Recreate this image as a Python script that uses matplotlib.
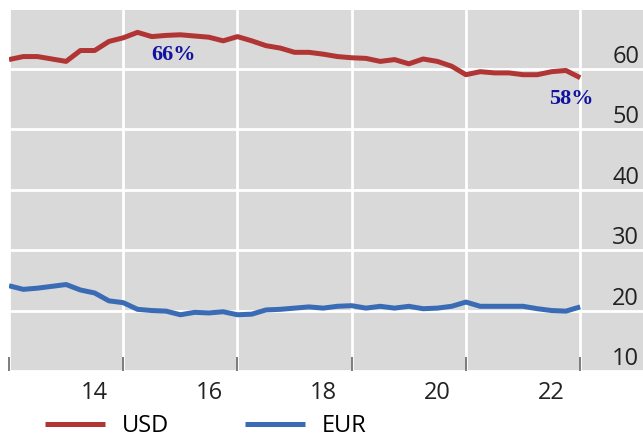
import matplotlib
matplotlib.use("Agg")
import matplotlib.pyplot as plt
import matplotlib.transforms as mtransforms
import pandas as pd

# quarterly shares (%), 2012Q3 - 2022Q3
first_quarter = "2012Q3"
last_quarter = "2022Q3"
usd = [61.5, 62.0, 62.0, 61.6, 61.2, 63.0, 63.0, 64.5, 65.1, 66.0,
       65.3, 65.5, 65.6, 65.4, 65.2, 64.6, 65.3, 64.6, 63.8, 63.4,
       62.7, 62.7, 62.4, 62.0, 61.8, 61.7, 61.2, 61.5, 60.8, 61.6,
       61.2, 60.4, 59.0, 59.5, 59.3, 59.3, 59.0, 59.0, 59.5, 59.7, 58.5]
eur = [24.1, 23.5, 23.7, 24.0, 24.3, 23.4, 22.9, 21.6, 21.3, 20.2,
       20.0, 19.9, 19.3, 19.7, 19.6, 19.8, 19.3, 19.4, 20.1, 20.2,
       20.4, 20.6, 20.4, 20.7, 20.8, 20.4, 20.7, 20.4, 20.7, 20.3,
       20.4, 20.7, 21.4, 20.7, 20.7, 20.7, 20.7, 20.3, 20.0, 19.9, 20.6]
year_labels = ["14", "16", "18", "20", "22"]
year_label_pos = [14, 16, 18, 20, 22]
grid_years = [12.5, 14.5, 16.5, 18.5, 20.5, 22.5]
y_ticks = [10, 20, 30, 40, 50, 60]
notes = [("66%", 15.38, 62.3), ("58%", 22.34, 55.0)]

RED = "#b23535"
BLUE = "#3a6cb5"
NAVY = "#1212a0"


def quarter_positions():
    q = pd.period_range(first_quarter, last_quarter, freq="Q")
    return [(p.year - 2000) + (p.quarter - 1) / 4 for p in q]


def main():
    plt.rcParams["font.family"] = ["Open Sans", "DejaVu Sans"]
    x = quarter_positions()

    fig = plt.figure(figsize=(6.43, 4.41), dpi=100)
    ax = fig.add_axes([9 / 643, 1 - 371 / 441, 634 / 643, 361 / 441])
    ax.set_facecolor("#d9d9d9")
    for s in ax.spines.values():
        s.set_visible(False)

    ax.set_xlim(12.5, 23.6)
    ax.set_ylim(10, 69.7)

    for gx in grid_years:
        ax.axvline(gx, color="white", lw=2, zorder=1)
    for gy in y_ticks:
        ax.axhline(gy, color="white", lw=2, zorder=1)

    ax.plot(x, usd, color=RED, lw=3.6, label="USD", zorder=3,
            solid_capstyle="butt")
    ax.plot(x, eur, color=BLUE, lw=3.6, label="EUR", zorder=3,
            solid_capstyle="butt")

    # x axis: tick marks at grid lines, labels at year positions
    ax.set_xticks(grid_years)
    ax.set_xticklabels([])
    ax.tick_params(axis="x", which="major", direction="in", length=10,
                   width=1.2, color="#666666")
    ax.set_xticks(year_label_pos, minor=True)
    ax.set_xticklabels(year_labels, minor=True)
    ax.tick_params(axis="x", which="minor", length=0, pad=7,
                   labelsize=17, labelcolor="#222222")

    # y labels sit inside the plot on the right, just above the grid lines
    ax.set_yticks([])
    trans = mtransforms.blended_transform_factory(ax.transAxes, ax.transData)
    for v in y_ticks:
        ax.text(0.994, v, str(v), transform=trans, ha="right",
                va="bottom", fontsize=17, color="#222222")

    for txt, nx, ny in notes:
        ax.text(nx, ny, txt, ha="center", va="center", fontsize=16,
                fontweight="bold", color=NAVY, family="Liberation Serif",
                zorder=4)

    fig.legend(loc="center left", bbox_to_anchor=(45 / 643, 1 - 426 / 441),
               ncol=2, frameon=False, fontsize=17, handlelength=2.55,
               handletextpad=0.72, columnspacing=3.2, borderpad=0,
               borderaxespad=0)

    fig.savefig("out.png", dpi=100)


if __name__ == "__main__":
    main()
